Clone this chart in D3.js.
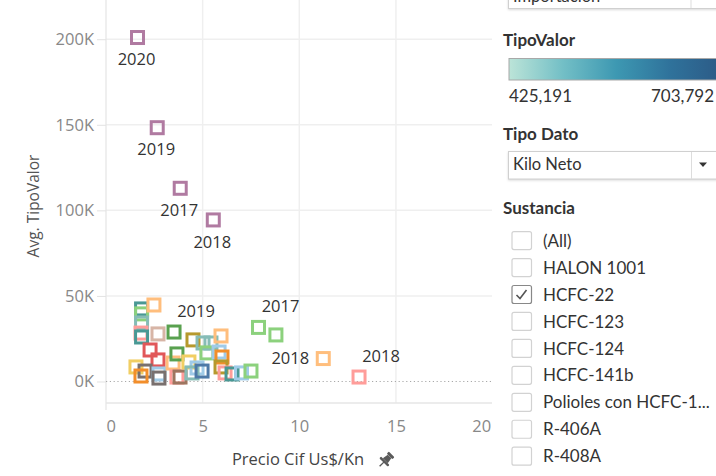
<!DOCTYPE html>
<html><head><meta charset="utf-8">
<script src="https://cdn.jsdelivr.net/npm/d3@7/dist/d3.min.js"></script>
<style>
body{margin:0;background:#fff;overflow:hidden;}
svg{display:block;font-family:"Open Sans","Noto Sans",sans-serif;}
</style>
</head><body>
<svg id="c" width="716" height="476"></svg>
<script>
// ---------- data ----------
const xTicks = [0, 5, 10, 15, 20];
const yTicks = [0, 50000, 100000, 150000, 200000];
const seriesKeys = ["P","LG","LO","PK","G","DT","LT","LBR","R","Y","GR","O","LBL","BR","OL","B"];
const seriesColors = ["#b07aa1","#8cd17d","#ffbe7d","#ff9d9a","#59a14f","#499894","#86bcb6","#d7b5a6","#e15759","#f1ce63","#79706e","#f28e2b","#a0cbe8","#9d7660","#b6992d","#4e79a7"];
// points: series, year, precio (Us$/Kn), avg TipoValor, label placement (or null)
const points = [
  {s:"DT", year:2020, precio:1.84, valor:42400, label:null},
  {s:"LG", year:2020, precio:1.84, valor:39500, label:null},
  {s:"LT", year:2020, precio:1.84, valor:34200, label:null},
  {s:"PK", year:2020, precio:1.81, valor:28300, label:null},
  {s:"DT", year:2019, precio:1.84, valor:26000, label:null},
  {s:"LO", year:2020, precio:2.48, valor:44700, label:null},
  {s:"LBR",year:2019, precio:2.69, valor:27800, label:null},
  {s:"R",  year:2020, precio:2.28, valor:18400, label:null},
  {s:"R",  year:2019, precio:2.69, valor:12600, label:null},
  {s:"Y",  year:2020, precio:1.55, valor:8500,  label:null},
  {s:"GR", year:2020, precio:2.02, valor:6100,  label:null},
  {s:"O",  year:2020, precio:1.81, valor:3200,  label:null},
  {s:"LBL",year:2020, precio:2.74, valor:4400,  label:null},
  {s:"GR", year:2019, precio:2.74, valor:2000,  label:null},
  {s:"LO", year:2019, precio:3.47, valor:10800, label:null},
  {s:"PK", year:2019, precio:3.67, valor:2600,  label:null},
  {s:"BR", year:2019, precio:3.83, valor:2600,  label:null},
  {s:"G",  year:2018, precio:3.67, valor:16100, label:null},
  {s:"OL", year:2019, precio:4.50, valor:24300, label:null},
  {s:"LT", year:2019, precio:5.02, valor:22500, label:null},
  {s:"LT", year:2018, precio:5.43, valor:22500, label:null},
  {s:"LG", year:2016, precio:5.22, valor:16700, label:null},
  {s:"Y",  year:2019, precio:4.29, valor:11400, label:null},
  {s:"LBL",year:2019, precio:4.71, valor:7900,  label:null},
  {s:"LT", year:2017, precio:4.45, valor:5000,  label:null},
  {s:"B",  year:2019, precio:4.97, valor:6100,  label:null},
  {s:"LO", year:2017, precio:5.95, valor:26600, label:null},
  {s:"LBL",year:2018, precio:5.85, valor:17200, label:null},
  {s:"O",  year:2019, precio:6.00, valor:14300, label:null},
  {s:"OL", year:2018, precio:5.95, valor:8500,  label:null},
  {s:"PK", year:2017, precio:6.16, valor:5000,  label:null},
  {s:"DT", year:2018, precio:6.52, valor:4400,  label:null},
  {s:"LBL",year:2017, precio:7.01, valor:5000,  label:null},
  {s:"LG", year:2019, precio:7.50, valor:6100,  label:null},
  {s:"G",  year:2019, precio:3.52, valor:28900, label:"aboveRight"},
  {s:"LG", year:2017, precio:7.89, valor:31600, label:"aboveRight"},
  {s:"LG", year:2018, precio:8.79, valor:27200, label:null},
  {s:"LO", year:2018, precio:11.24,valor:13400, label:"left"},
  {s:"PK", year:2018, precio:13.09,valor:2600,  label:"aboveRight"},
  {s:"P",  year:2020, precio:1.63, valor:201000,label:"below"},
  {s:"P",  year:2019, precio:2.65, valor:148300,label:"below"},
  {s:"P",  year:2017, precio:3.84, valor:112900,label:"below"},
  {s:"P",  year:2018, precio:5.55, valor:94400, label:"below"}
];
const legendRange = ["425,191", "703,792"];
const rampColors = ["#bce4d8","#73bfc6","#3d98b2","#2f729b","#2c5985"];
const sustancias = ["(All)","HALON 1001","HCFC-22","HCFC-123","HCFC-124","HCFC-141b","Polioles con HCFC-1...","R-406A","R-408A"];
const sustanciaChecked = ["HCFC-22"];

// ---------- drawing ----------
const svg = d3.select("#c");
const x = d3.scaleLinear().domain([0, 20]).range([106, 492.6]);
const y = d3.scaleLinear().domain([-12570, 220000]).range([403, 5]);
const color = d3.scaleOrdinal().domain(seriesKeys).range(seriesColors);
const grid = "#efefef", tickCol = "#888";

// gridlines
svg.append("g").selectAll("line").data(xTicks.filter(d => d > 0 && d < 20)).join("line")
  .attr("x1", d => x(d)).attr("x2", d => x(d)).attr("y1", 0).attr("y2", 403)
  .attr("stroke", grid).attr("stroke-width", 1.5);
svg.append("g").selectAll("line").data(yTicks.filter(d => d > 0)).join("line")
  .attr("x1", 106).attr("x2", 492).attr("y1", d => y(d)).attr("y2", d => y(d))
  .attr("stroke", grid).attr("stroke-width", 1.5);
// frame lines
svg.append("line").attr("x1", 106).attr("x2", 106).attr("y1", 0).attr("y2", 410).attr("stroke", "#e6e6e6").attr("stroke-width", 1.3);
svg.append("line").attr("x1", 106).attr("x2", 492).attr("y1", 403).attr("y2", 403).attr("stroke", "#e6e6e6").attr("stroke-width", 1.3);
// zero line dotted
svg.append("line").attr("x1", 106).attr("x2", 492).attr("y1", y(0)).attr("y2", y(0))
  .attr("stroke", "#a8a8a8").attr("stroke-width", 1).attr("stroke-dasharray", "1.2,2.6");

// y axis
const yAxis = svg.append("g").attr("transform", "translate(106,0)")
  .call(d3.axisLeft(y).tickValues(yTicks).tickFormat(d => (d / 1000) + "K").tickSize(9).tickPadding(3));
yAxis.select(".domain").remove();
yAxis.selectAll(".tick line").attr("stroke", "#e2e2e2");
yAxis.selectAll(".tick text").attr("fill", tickCol).style("font-size", "16.5px").style("font-family", "Open Sans");

// x axis
const xAxis = svg.append("g").attr("transform", "translate(0,403)")
  .call(d3.axisBottom(x).tickValues(xTicks).tickSize(0).tickPadding(17));
xAxis.select(".domain").remove();
xAxis.selectAll(".tick text").attr("fill", tickCol).style("font-size", "16.5px").style("font-family", "Open Sans")
  .attr("text-anchor", d => d === 0 ? "start" : (d === 20 ? "end" : "middle"))
  .attr("dx", d => d === 20 ? "-2" : "0");

// axis titles
svg.append("text").attr("transform", "translate(39,206) rotate(-90)").attr("text-anchor", "middle")
  .attr("fill", "#555").style("font-size", "15.5px").text("Avg. TipoValor");
svg.append("text").attr("x", 298).attr("y", 465).attr("text-anchor", "middle")
  .attr("fill", "#444").style("font-size", "16.5px").text("Precio Cif Us$/Kn");
// pin icon
const pin = svg.append("g").attr("transform", "translate(386,460) rotate(45)").attr("fill", "#5a5a5a");
pin.append("rect").attr("x", -4).attr("y", -8).attr("width", 8).attr("height", 3).attr("rx", 1);
pin.append("path").attr("d", "M-2.5,-5 L2.5,-5 L3.5,1 L-3.5,1 Z");
pin.append("rect").attr("x", -6).attr("y", 1).attr("width", 12).attr("height", 2.5).attr("rx", 1);
pin.append("rect").attr("x", -0.7).attr("y", 3).attr("width", 1.4).attr("height", 6);

// marks
svg.append("g").selectAll("rect").data(points).join("rect")
  .attr("x", d => x(d.precio) - 6).attr("y", d => y(d.valor) - 6)
  .attr("width", 12).attr("height", 12)
  .attr("fill", "none").attr("stroke", d => color(d.s)).attr("stroke-width", 3);

// labels
const off = {below: [-1, 22], aboveRight: [22, -21], left: [-33, 0]};
svg.append("g").selectAll("text").data(points.filter(d => d.label)).join("text")
  .attr("x", d => x(d.precio) + off[d.label][0]).attr("y", d => y(d.valor) + off[d.label][1])
  .attr("dy", "0.35em").attr("text-anchor", "middle").attr("fill", "#333")
  .style("font-size", "16.5px").text(d => d.year);

// ---------- right panel ----------
const panelFont = "Lato";
// top dropdown (cut at the top edge, as in the reference)
svg.append("rect").attr("x", 508.5).attr("y", -20).attr("width", 210).attr("height", 28.5)
  .attr("fill", "#fff").attr("stroke", "#d0d0d0").style("filter", "drop-shadow(0px 1px 1px rgba(0,0,0,0.15))");
svg.append("line").attr("x1", 691).attr("x2", 691).attr("y1", -20).attr("y2", 8).attr("stroke", "#ddd");
svg.append("text").attr("x", 513).attr("y", 2).attr("fill", "#333").style("font-size", "16.5px").style("font-family", panelFont).text("Importación");

svg.append("text").attr("x", 503).attr("y", 45.5).attr("fill", "#333").style("font-size", "17px")
  .style("font-weight", "bold").style("font-family", panelFont).text("TipoValor");
const grad = svg.append("defs").append("linearGradient").attr("id", "ramp");
grad.selectAll("stop").data(rampColors).join("stop")
  .attr("offset", (d, i) => (i / (rampColors.length - 1) * 100) + "%").attr("stop-color", d => d);
svg.append("rect").attr("x", 509).attr("y", 58.5).attr("width", 215).attr("height", 21.5)
  .attr("fill", "url(#ramp)").attr("stroke", "#a8a8a8").attr("stroke-width", 1);
svg.append("text").attr("x", 509).attr("y", 101.5).attr("fill", "#333").style("font-size", "17px")
  .style("font-family", panelFont).text(legendRange[0]);
svg.append("text").attr("x", 714).attr("y", 101.5).attr("text-anchor", "end").attr("fill", "#333").style("font-size", "17px")
  .style("font-family", panelFont).text(legendRange[1]);

svg.append("text").attr("x", 503).attr("y", 140).attr("fill", "#333").style("font-size", "17px")
  .style("font-weight", "bold").style("font-family", panelFont).text("Tipo Dato");
svg.append("rect").attr("x", 508.5).attr("y", 151.5).attr("width", 210).attr("height", 27.5)
  .attr("fill", "#fff").attr("stroke", "#d0d0d0").style("filter", "drop-shadow(0px 1px 1px rgba(0,0,0,0.15))");
svg.append("line").attr("x1", 691.5).attr("x2", 691.5).attr("y1", 152).attr("y2", 179).attr("stroke", "#ddd");
svg.append("path").attr("d", "M699,162.5 L707,162.5 L703,167 Z").attr("fill", "#333");
svg.append("text").attr("x", 513).attr("y", 170).attr("fill", "#333").style("font-size", "16.5px")
  .style("font-family", panelFont).text("Kilo Neto");

svg.append("text").attr("x", 503).attr("y", 214).attr("fill", "#333").style("font-size", "17px")
  .style("font-weight", "bold").style("font-family", panelFont).text("Sustancia");
const items = svg.append("g").selectAll("g").data(sustancias).join("g")
  .attr("transform", (d, i) => `translate(0,${240.6 + i * 26.95})`);
items.append("rect").attr("x", 512).attr("y", -9).attr("width", 19.5).attr("height", 18).attr("rx", 2)
  .attr("fill", "#fff").attr("stroke", d => sustanciaChecked.includes(d) ? "#888" : "#d2d2d2").attr("stroke-width", 1.2);
items.filter(d => sustanciaChecked.includes(d)).append("path")
  .attr("d", "M516.5,0.5 L520,4 L526.5,-4.5").attr("fill", "none").attr("stroke", "#555").attr("stroke-width", 1.6);
items.append("text").attr("x", 543).attr("dy", "0.36em").attr("fill", "#333").style("font-size", "17px")
  .style("font-family", panelFont).text(d => d);
</script>
</body></html>
